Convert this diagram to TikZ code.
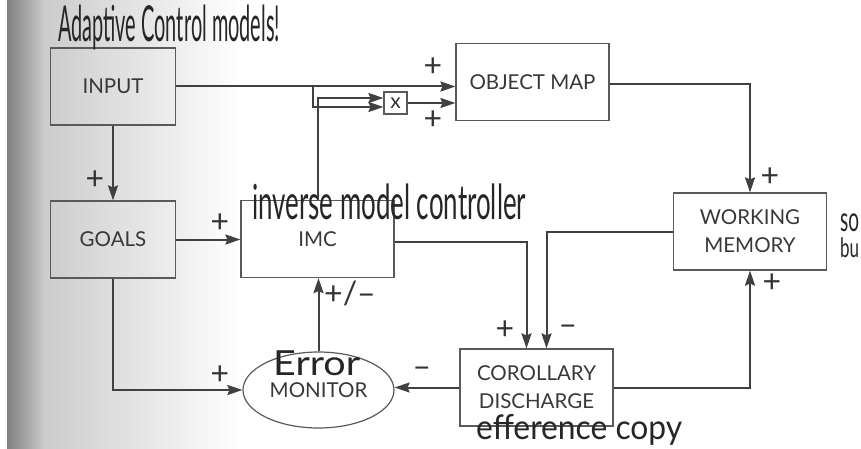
\documentclass[tikz,border=0pt]{standalone}
\usepackage{fontspec}
\newfontfamily\labelfont{Lato}
\usetikzlibrary{arrows.meta,shapes.geometric}

\begin{document}
\begin{tikzpicture}[x=1pt,y=-1pt,
    block/.style={draw=black!65, line width=1.2pt, minimum width=153pt,
        minimum height=77pt, align=center, text=black!78,
        font=\labelfont\fontsize{20.5}{28}\selectfont},
    smallblock/.style={block, minimum width=125pt},
    flow/.style={draw=black!75, line width=2pt, -{Stealth[length=15pt,width=10pt,inset=2pt]}},
    sign/.style={text=black!80, font=\labelfont\fontsize{32}{32}\selectfont},
    scrawl/.style={text=black!85, font=\labelfont, inner sep=0pt, anchor=north west},
  ]
    \useasboundingbox (0,0) rectangle (861,449);
    % page shading of the scan
    \shade[left color=black!50, right color=black!20] (7,0) rectangle (45,449);
    \shade[left color=black!20, right color=white] (45,0) rectangle (240,449);

    % blocks
    \node[smallblock] (input) at (113,86.5) {INPUT};
    \node[smallblock] (goals) at (113,239.5) {GOALS};
    \node[block] (objmap) at (532.5,82) {OBJECT MAP};
    \node[block] (imc) at (317.5,239) {IMC};
    \node[block] (wm) at (750,231.5) {WORKING\\MEMORY};
    \node[block] (cd) at (536.5,387.5) {COROLLARY\\DISCHARGE};
    \node[ellipse, draw=black!65, line width=1.2pt, minimum width=151pt,
        minimum height=76pt, inner sep=0pt, text=black!78,
        font=\labelfont\fontsize{20.5}{28}\selectfont] (mon) at (318.5,390) {MONITOR};
    \node[draw=black!65, line width=1.2pt, minimum width=23pt, minimum height=22pt,
        inner sep=0pt, text=black!80, font=\labelfont\fontsize{21}{21}\selectfont] (xbox) at (395.5,103) {x};

    \coordinate (split) at (313,86.5);

    % connectors
    \draw[flow] (input.south) -- (goals.north);
    \draw[flow] (input.east) -- (input.east -| objmap.west);
    \draw[flow] (split) |- ([yshift=-4]xbox.west);
    \draw[flow] (imc.north) |- ([yshift=5]xbox.west);
    \draw[flow] (xbox.east) -- (xbox.east -| objmap.west);
    \draw[flow] ([yshift=-2]objmap.east) -| (wm.north);
    \draw[flow] (goals.east) -- (goals.east -| imc.west);
    \draw[flow] ([yshift=-3]imc.east) -| ([xshift=-10]cd.north);
    \draw[flow] (wm.west) -| ([xshift=10]cd.north);
    \draw[flow] (cd.east) -| (wm.south);
    \draw[flow] (cd.west) -- (cd.west -| mon.east);
    \draw[flow] (mon.north) -- (mon.north |- imc.south);
    \draw[flow] (goals.south) |- (mon.west);

    % signs
    \node[sign] at (95,180) {+};
    \node[sign] at (433,67) {+};
    \node[sign] at (433,120) {+};
    \node[sign] at (770,177) {+};
    \node[sign] at (220,223) {+};
    \node[sign] at (350,293) {+/–};
    \node[sign] at (505,330) {+};
    \node[sign] at (568,330) {–};
    \node[sign] at (772,283) {+};
    \node[sign] at (422,372) {–};
    \node[sign] at (220,375) {+};

    % handwritten notes
    \node[scrawl] (note1) at (58,5) {\resizebox*{222pt}{45pt}{Adaptive Control models!}};
    \node[scrawl] (note2) at (252,184) {\resizebox*{274pt}{36pt}{inverse model controller}};
    \node[scrawl] (note3) at (273,351) {\resizebox*{87pt}{25pt}{Error}};
    \node[scrawl] (note4) at (476,414) {\resizebox*{206pt}{31pt}{efference copy}};
    \node[scrawl] (note5) at (840,214) {\resizebox*{19pt}{18pt}{so}};
    \node[scrawl] (note6) at (840,238) {\resizebox*{19pt}{20pt}{bu}};
\end{tikzpicture}
\end{document}
